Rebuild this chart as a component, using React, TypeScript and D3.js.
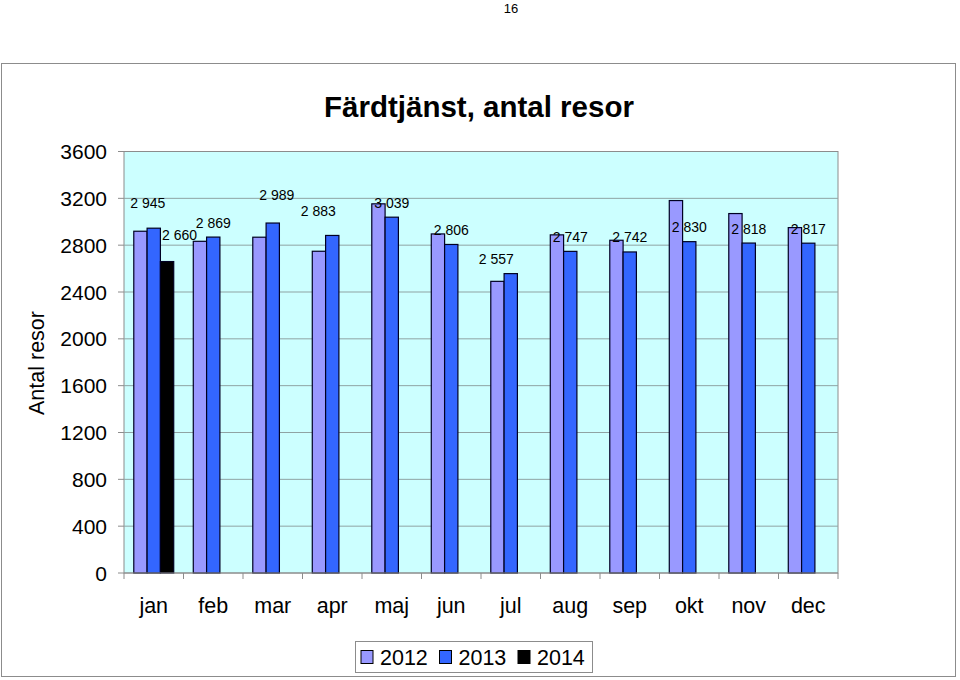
import React, {useEffect} from 'react';
import * as d3 from "d3";

const months = ['jan', 'feb', 'mar', 'apr', 'maj', 'jun', 'jul', 'aug', 'sep', 'okt', 'nov', 'dec'];
const years = ['2012', '2013', '2014'];
const v2012 = [2919, 2833, 2868, 2748, 3153, 2896, 2491, 2888, 2842, 3181, 3070, 2950];
const v2013 = [2945, 2869, 2989, 2883, 3039, 2806, 2557, 2747, 2742, 2830, 2818, 2817];
const v2014: Array<number | null> = [2660, null, null, null, null, null, null, null, null, null, null, null];
const yTicks = [0, 400, 800, 1200, 1600, 2000, 2400, 2800, 3200, 3600];
const colors = ['#9999ff', '#3366ff', '#000000'];
// hand-placed labels in the original (dx, dy in px)
const labelNudge2013 = [[-6, -11], [0, 0], [4, -14], [-14, -10], [0, 0], [0, 0], [-14.5, 0], [0, 0], [0, 0], [0, 0], [0, 0], [0, 0]];
const labelNudge2014 = [[12.5, -12]];

const font = '"Liberation Sans", Arial, sans-serif';

function fmt(v: number) {
    return d3.format(",")(v).replace(",", " ");
}

function App() {
    useEffect(() => {
        document.body.style.margin = "0";
    }, []);

    const plot = {left: 124, right: 838, top: 151.5, bottom: 573};
    const x = d3.scaleBand<string>().domain(months).range([plot.left, plot.right]);
    const sub = d3.scaleBand<string>().domain(years).range([0, x.bandwidth()]).paddingOuter(0.735);
    const y = d3.scaleLinear().domain([0, 3600]).range([plot.bottom, plot.top]);
    const series = [v2012, v2013, v2014];

    return (
        <div style={{position: 'absolute', left: 0, top: 0}}>
            <svg width={960} height={680} style={{display: 'block', fontFamily: font}}>
                <rect x={0} y={0} width={960} height={680} fill="#fff"/>
                <text x={511} y={13} fontSize={13} textAnchor="middle">16</text>
                <rect x={1.5} y={63.5} width={954} height={613} fill="#fff" stroke="#8c8c8c"/>
                <text x={479} y={117} fontSize={29.5} fontWeight="bold" textAnchor="middle">Färdtjänst, antal resor</text>

                <rect x={plot.left} y={plot.top} width={plot.right - plot.left} height={plot.bottom - plot.top}
                      fill="#ccffff" stroke="#8c8c8c"/>
                {yTicks.slice(1, -1).map(t => (
                    <line key={"g" + t} x1={plot.left} x2={plot.right} y1={y(t)} y2={y(t)} stroke="#8fa3a3"/>
                ))}
                {yTicks.map(t => (
                    <g key={"t" + t}>
                        <line x1={plot.left - 6} x2={plot.left} y1={y(t)} y2={y(t)} stroke="#8c8c8c"/>
                        <text x={107} y={y(t) + 7.5} fontSize={21} textAnchor="end">{t}</text>
                    </g>
                ))}
                <text transform={`translate(44,${363}) rotate(-90)`} fontSize={21.5} textAnchor="middle">Antal resor</text>

                {series.map((vals, si) => vals.map((v, i) => v == null ? null : (
                    <rect key={si + "-" + i}
                          x={(x(months[i]) as number) + (sub(years[si]) as number)}
                          y={y(v)}
                          width={sub.bandwidth()}
                          height={y(0) - y(v)}
                          fill={colors[si]} stroke="#000022" strokeWidth={1.2}/>
                )))}

                <line x1={plot.left} x2={plot.right} y1={y(0)} y2={y(0)} stroke="#8c8c8c"/>
                {d3.range(months.length + 1).map(i => {
                    const tx = plot.left + i * x.step();
                    return <line key={"xt" + i} x1={tx} x2={tx} y1={y(0)} y2={y(0) + 6} stroke="#8c8c8c"/>;
                })}
                {months.map(m => (
                    <text key={m} x={(x(m) as number) + x.bandwidth() / 2} y={613} fontSize={21.5}
                          textAnchor="middle">{m}</text>
                ))}

                {v2013.map((v, i) => {
                    const cx = (x(months[i]) as number) + (sub('2013') as number) + sub.bandwidth() / 2;
                    const [dx, dy] = labelNudge2013[i];
                    return <text key={"l13" + i} x={cx + dx} y={y(v) - 14.5 + dy + 5} fontSize={14}
                                 textAnchor="middle">{fmt(v)}</text>;
                })}
                {v2014.map((v, i) => {
                    if (v == null) return null;
                    const cx = (x(months[i]) as number) + (sub('2014') as number) + sub.bandwidth() / 2;
                    const [dx, dy] = labelNudge2014[i];
                    return <text key={"l14" + i} x={cx + dx} y={y(v) - 14.5 + dy + 5} fontSize={14}
                                 textAnchor="middle">{fmt(v)}</text>;
                })}

                <rect x={355.5} y={641.5} width={237} height={31} fill="#fff" stroke="#8c8c8c"/>
                {years.map((yr, i) => (
                    <g key={yr} transform={`translate(${361 + i * 78.5},0)`}>
                        <rect x={0} y={650.5} width={12} height={13} fill={colors[i]} stroke="#000"/>
                        <text x={19} y={665} fontSize={21.5}>{yr}</text>
                    </g>
                ))}
            </svg>
        </div>
    );
}

export default App
